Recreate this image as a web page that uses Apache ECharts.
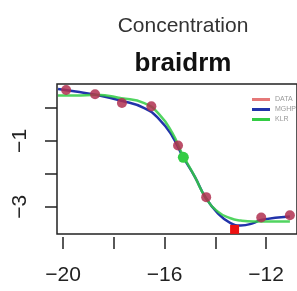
<!DOCTYPE html>
<html>
<head>
<meta charset="utf-8">
<title>braidrm</title>
<script src="https://cdn.jsdelivr.net/npm/echarts@6/dist/echarts.min.js"></script>
<style>
  html, body { margin: 0; padding: 0; background: #fff; }
  #main { width: 297px; height: 291px; }
</style>
</head>
<body>
<div id="main"></div>
<script>
// observed data points
var dataX = [-19.88, -18.74, -17.68, -16.52, -15.47, -15.26, -14.36, -13.24, -12.19, -11.06];
var dataY = [0.55, 0.42, 0.15, 0.05, -1.14, -1.5, -2.71, -3.69, -3.33, -3.26];
// fitted curves
var fitX  = [-20.2, -19.5, -18.7, -17.7, -16.8, -16.2, -15.7, -15.3, -14.8, -14.4, -13.9, -13.4, -13.0, -12.5, -12.2, -11.06];
var mghpY = [0.58, 0.5, 0.4, 0.22, 0.0, -0.35, -0.85, -1.45, -2.1, -2.7, -3.2, -3.5, -3.57, -3.5, -3.4, -3.3];
var klrY  = [0.38, 0.38, 0.4, 0.3, 0.15, -0.2, -0.75, -1.4, -2.1, -2.7, -3.15, -3.35, -3.42, -3.45, -3.45, -3.45];
var xTicks = [-20, -18, -16, -14, -12];
var xLabels = [-20, -16, -12];
var yTicks = [0, -1, -2, -3];
var yLabels = [-1, -3];

function pairs(xs, ys) { return xs.map(function (x, i) { return [x, ys[i]]; }); }
function minus(v) { return String(v).replace('-', '\u2212'); }

var pts = pairs(dataX, dataY).map(function (p, i) {
  if (i === 5) return { value: p, symbolSize: 11, itemStyle: { color: '#33cc44', opacity: 1 } };
  if (i === 7) return { value: p, symbol: 'rect', symbolSize: 9, itemStyle: { color: '#ee1111', opacity: 1 } };
  return p;
});

var chart = echarts.init(document.getElementById('main'));
chart.setOption({
  animation: false,
  title: [
    { text: 'Concentration', left: 178, textAlign: 'center', top: 11,
      textStyle: { fontFamily: 'Liberation Sans', fontSize: 21, fontWeight: 'normal', color: '#333' } },
    { text: 'braidrm', left: 178, textAlign: 'center', top: 46,
      textStyle: { fontFamily: 'Liberation Sans', fontSize: 26, fontWeight: 'bold', color: '#111' } }
  ],
  legend: {
    orient: 'vertical', left: 247, top: 90, itemGap: 1, itemWidth: 18, itemHeight: 3,
    textStyle: { fontSize: 7, lineHeight: 9, color: '#999', fontFamily: 'Liberation Sans' },
    data: [
      { name: 'DATA', icon: 'rect', itemStyle: { color: '#e06060' } },
      { name: 'MGHP', icon: 'rect' },
      { name: 'KLR', icon: 'rect' }
    ]
  },
  grid: { left: 57, top: 84, right: -3, bottom: 57, show: true, borderColor: '#222', borderWidth: 1.5 },
  xAxis: {
    type: 'value', min: -20.24, max: -10.78, offset: 3,
    splitLine: { show: false }, axisLine: { show: false, onZero: false },
    axisTick: { show: true, length: 12, customValues: xTicks, lineStyle: { color: '#222', width: 1.5 } },
    axisLabel: { customValues: xLabels, margin: 28, fontSize: 21, color: '#222', fontFamily: 'Liberation Sans', formatter: minus }
  },
  yAxis: {
    type: 'value', min: -3.83, max: 0.73,
    splitLine: { show: false }, axisLine: { show: false, onZero: false },
    axisTick: { show: true, length: 12, customValues: yTicks, lineStyle: { color: '#222', width: 1.5 } },
    axisLabel: { customValues: yLabels, rotate: 90, margin: 26, fontSize: 21, color: '#222', fontFamily: 'Liberation Sans', formatter: minus }
  },
  series: [
    { name: 'MGHP', type: 'line', smooth: true, showSymbol: false, color: '#2233aa',
      lineStyle: { width: 2.5 }, data: pairs(fitX, mghpY), z: 3 },
    { name: 'KLR', type: 'line', smooth: true, showSymbol: false, color: '#33cc44',
      lineStyle: { width: 2.5, opacity: 0.85 }, data: pairs(fitX, klrY), z: 4 },
    { name: 'DATA', type: 'scatter', symbolSize: 10, color: '#b03050',
      itemStyle: { opacity: 0.85 }, data: pts, z: 5 }
  ]
});
</script>
</body>
</html>
